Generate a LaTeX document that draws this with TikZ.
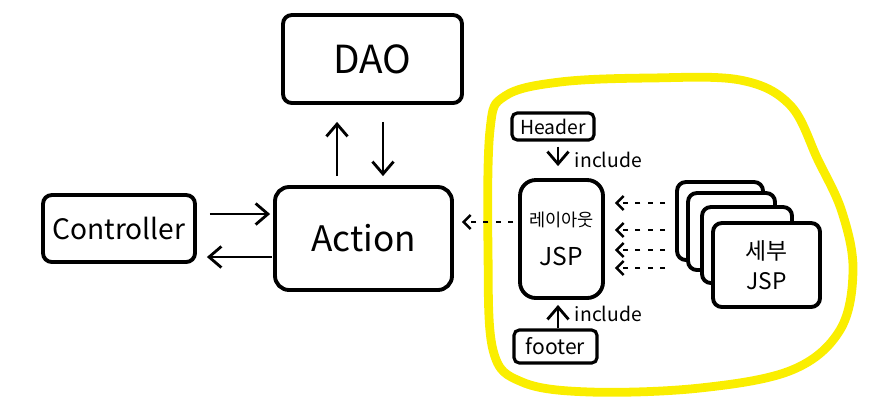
\documentclass[tikz,border=0pt]{standalone}
\usepackage{fontspec}
\setmainfont{Noto Sans CJK KR}
\usetikzlibrary{arrows.meta}
\definecolor{hl}{RGB}{250,238,0}
\tikzset{
  px/.style={x=0.02cm,y=-0.02cm},
  bx/.style={draw=black,line width=2.2pt,fill=white,inner sep=0pt,rounded corners=5pt},
  arr/.style={line width=1.6pt,-{Straight Barb[length=7pt,width=12pt,line width=1.6pt]}},
  darr/.style={line width=1.4pt,dash pattern=on 3pt off 4pt,-{Straight Barb[length=4pt,width=8pt,line width=1.4pt]}},
  lbl/.style={inner sep=0pt,font=\fontsize{11}{13}\selectfont}
}
\begin{document}
\begin{tikzpicture}[px]
\useasboundingbox (0,0) rectangle (874,407);
% yellow highlight
\draw[hl,line width=5pt,line join=round] plot[smooth cycle,tension=0.6] coordinates {
 (490,130) (505,96) (560,82) (650,78) (740,80) (790,105) (818,160) (842,212)
 (853,270) (840,330) (792,370) (700,388) (590,392) (522,382) (493,350) (488,250)};
% main boxes
\node[bx,minimum width=3.58cm,minimum height=1.76cm,font=\fontsize{22}{26}\selectfont] (dao) at (372.5,59) {DAO};
\node[bx,minimum width=3.54cm,minimum height=2.06cm,rounded corners=8pt,font=\fontsize{20}{24}\selectfont] (action) at (363.5,238.5) {Action};
\node[bx,minimum width=3.04cm,minimum height=1.34cm,font=\fontsize{16}{19}\selectfont] (ctrl) at (119,228.5) {Controller};
% right side
\node[bx,line width=1.8pt,minimum width=1.64cm,minimum height=0.54cm,rounded corners=3pt,font=\fontsize{11}{13}\selectfont] (header) at (553,126.5) {Header};
\node[bx,minimum width=1.66cm,minimum height=2.36cm,rounded corners=9pt,align=center] (layout) at (561.5,239)
 {{\fontsize{10}{12}\selectfont 레이아웃}\\[10pt]{\fontsize{14}{16}\selectfont JSP}};
\node[bx,line width=1.8pt,minimum width=1.66cm,minimum height=0.66cm,rounded corners=3pt,font=\fontsize{12}{14}\selectfont] (footer) at (555.5,346.5) {footer};
% stacked cards
\node[bx,minimum width=1.72cm,minimum height=1.56cm] (card1) at (720,221) {};
\node[bx,minimum width=1.74cm,minimum height=1.54cm] (card2) at (731.5,231.5) {};
\node[bx,minimum width=1.80cm,minimum height=1.52cm] (card3) at (747,245) {};
\node[bx,minimum width=2.14cm,minimum height=1.68cm,align=center,font=\fontsize{13}{15}\selectfont] (card4) at (766.5,265) {세부\\[2pt]JSP};
% DAO <-> Action
\draw[arr,shorten <=0.18cm,shorten >=0.34cm] ([xshift=-0.53cm]action.north) -- ([xshift=-0.53cm]action.north |- dao.south);
\draw[arr,shorten <=0.34cm,shorten >=0.18cm] ([xshift=0.39cm]action.north |- dao.south) -- ([xshift=0.39cm]action.north);
% Controller <-> Action
\draw[arr,shorten <=0.26cm,shorten >=0.06cm] ([yshift=0.29cm]ctrl.east) -- ([yshift=0.29cm]ctrl.east -| action.west);
\draw[arr,shorten <=0.02cm,shorten >=0.2cm] ([yshift=-0.57cm]ctrl.east -| action.west) -- ([yshift=-0.57cm]ctrl.east);
% layout -> Action
\draw[darr,shorten <=0.1cm,shorten >=0.16cm] ([yshift=0.34cm]layout.west) -- ([yshift=0.34cm]layout.west -| action.east);
% include arrows
\draw[arr,line width=1.3pt,shorten <=0.1cm,shorten >=0.24cm] ([xshift=0.1cm]header.south) -- ([xshift=0.1cm]header.south |- layout.north)
  node[lbl,midway,right=9pt] (inc1) {include};
\draw[arr,line width=1.3pt,shorten >=0.1cm] ([xshift=0.05cm]footer.north) -- ([xshift=0.05cm]footer.north |- layout.south)
  node[lbl,midway,right=9pt] (inc2) {include};
% detail -> layout dotted
\foreach \s in {0.36,-0.18,-0.58,-0.94}{
  \draw[darr,line width=1.2pt,shorten <=0.2cm,shorten >=0.2cm] ([yshift=\s cm]card1.west) -- ([yshift=\s cm]card1.west -| layout.east);
}
\end{tikzpicture}
\end{document}
